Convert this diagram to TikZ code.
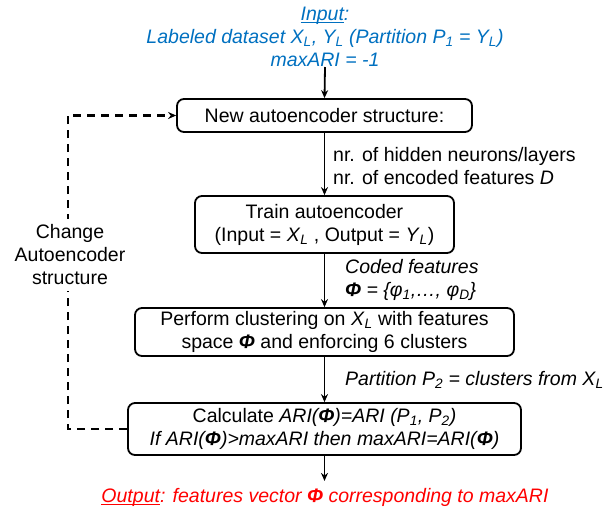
\documentclass[tikz,border=0pt]{standalone}
\usepackage{fontspec}
\setmainfont{Liberation Sans}
\usetikzlibrary{arrows.meta}
\definecolor{inblue}{HTML}{0070C0}
\definecolor{outred}{HTML}{FF0000}
\newcommand\sbs[1]{\textsubscript{\itshape #1}}
\newcommand\Phib{{\bfseries\itshape Φ}}
\newcommand\ulin[1]{\setbox0\hbox{#1}\rlap{\rule[-2.5pt]{\wd0}{1pt}}\box0}
\tikzset{
  box/.style={draw, line width=1.8pt, rounded corners=7pt, align=center, inner sep=0pt},
  lbl/.style={align=left, inner sep=0pt, anchor=west},
  arr/.style={line width=1.8pt, -{Stealth[length=8pt,width=7pt]}},
  dasharr/.style={line width=2.2pt, dash pattern=on 8pt off 6pt, -{Stealth[length=8pt,width=7pt]}},
}
\begin{document}
\begin{tikzpicture}[x=1pt,y=-1pt, font=\fontsize{19.5}{23}\selectfont]
\useasboundingbox (0,0) rectangle (609,512);
\node[align=center, inner sep=0pt, text=inblue, font=\fontsize{19.5}{23}\selectfont\itshape] (in) at (325,37)
  {\ulin{Input}:\\Labeled dataset \textit{X}\sbs{L}, \textit{Y}\sbs{L} (Partition \textit{P}\sbs{1} = \textit{Y}\sbs{L})\\maxARI = -1};
\node[box, minimum width=295pt, minimum height=33pt] (b1) at (324.5,115.5) {New autoencoder structure:};
\node[box, minimum width=259pt, minimum height=57pt] (b2) at (324.5,224.5)
  {Train autoencoder\\(Input = \textit{X}\sbs{L} , Output = \textit{Y}\sbs{L})};
\node[box, minimum width=379pt, minimum height=48pt] (b3) at (324.5,332)
  {Perform clustering on \textit{X}\sbs{L} with features\\space \Phib{} and enforcing 6 clusters};
\node[box, minimum width=393pt, minimum height=52pt] (b4) at (324.5,429)
  {Calculate \textit{ARI(\Phib)=ARI (P\sbs{1}, P\sbs{2})}\\\textit{If ARI(\Phib)>maxARI then maxARI=ARI(\Phib)}};
\node[lbl] (l1) at (333,166) {nr. of hidden neurons/layers\\nr. of encoded features \textit{D}};
\node[lbl, font=\fontsize{19.5}{23}\selectfont\itshape] (l2) at (345,280) {Coded features\\\Phib{} = \{φ\sbs{1},…, φ\sbs{D}\}};
\node[lbl, font=\fontsize{19.5}{23}\selectfont\itshape] (l3) at (345,380) {Partition \textit{P}\sbs{2} = clusters from \textit{X}\sbs{L}};
\node[align=center, inner sep=0pt, text=outred, font=\fontsize{19.5}{23}\selectfont\itshape] (out) at (325,497)
  {\ulin{Output}: features vector \Phib{} corresponding to maxARI};
\coordinate (loop) at (68,429);
\draw[arr] (in.south) -- (b1.north);
\draw[arr] (b1.south) -- (b2.north);
\draw[arr] (b2.south) -- (b3.north);
\draw[arr] (b3.south) -- (b4.north);
\draw[arr] (b4.south) -- ++(0,25);
\draw[dasharr] (b4.west) -- (loop) |- (b1.west);
\node[align=center, fill=white, inner xsep=2pt, inner ysep=6pt] (chg) at (70,255) {Change\\Autoencoder\\structure};
\end{tikzpicture}
\end{document}
